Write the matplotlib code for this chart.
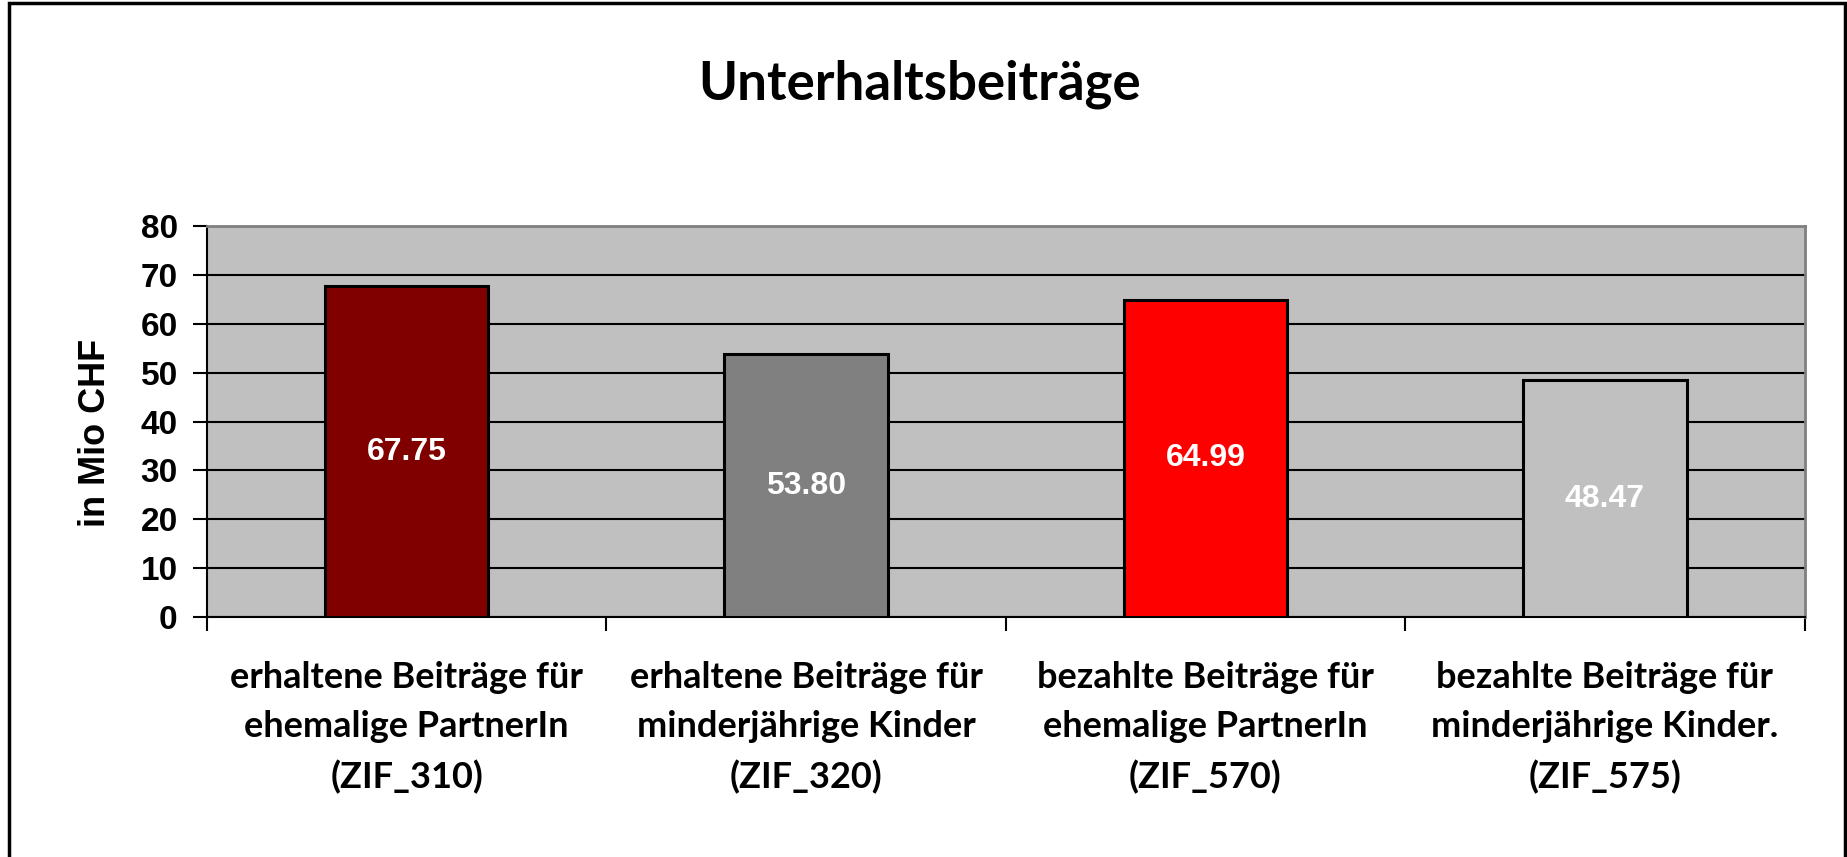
import matplotlib.pyplot as plt
from matplotlib.patches import Rectangle

categories = [
    "erhaltene Beiträge für\nehemalige PartnerIn\n(ZIF_310)",
    "erhaltene Beiträge für\nminderjährige Kinder\n(ZIF_320)",
    "bezahlte Beiträge für\nehemalige PartnerIn\n(ZIF_570)",
    "bezahlte Beiträge für\nminderjährige Kinder.\n(ZIF_575)",
]
values = [67.75, 53.80, 64.99, 48.47]
colors = ["#800000", "#808080", "#FF0000", "#C0C0C0"]
yticks = [0, 10, 20, 30, 40, 50, 60, 70, 80]

fig = plt.figure(figsize=(18.47, 8.57), dpi=100)
ax = fig.add_axes([0.112, 0.280, 0.865, 0.456])
ax.set_facecolor("#C0C0C0")

x = list(range(len(values)))
ax.bar(x, values, width=0.41, color=colors, edgecolor="black", linewidth=2.2, zorder=3)

for xi, v in zip(x, values):
    ax.text(xi, v / 2, f"{v:.2f}", ha="center", va="center", color="white",
            fontsize=23, fontweight="bold", family="Liberation Sans", zorder=4)

ax.set_xlim(-0.5, 3.5)
ax.set_ylim(0, 80)
ax.set_yticks(yticks)
ax.set_yticklabels([str(t) for t in yticks], fontsize=24, fontweight="bold",
                   family="Liberation Sans")
ax.yaxis.grid(True, color="black", linewidth=1.5, zorder=1)
ax.set_axisbelow(True)

# ticks between the categories, labels in the middle
ax.set_xticks([-0.5, 0.5, 1.5, 2.5, 3.5])
ax.set_xticklabels([])
ax.set_xticks(x, minor=True)
ax.set_xticklabels(categories, minor=True, fontsize=26, fontweight="bold",
                   family="Lato", linespacing=1.58)
ax.tick_params(axis="x", which="minor", length=0, pad=32)
ax.tick_params(axis="x", which="major", length=10, width=1.5, direction="out")
ax.tick_params(axis="y", length=10, width=1.5, direction="out", pad=11)

for s in ["left", "bottom"]:
    ax.spines[s].set_color("black")
    ax.spines[s].set_linewidth(1.5)
for s in ["top", "right"]:
    ax.spines[s].set_color("#808080")
    ax.spines[s].set_linewidth(2)

ax.set_ylabel("in Mio CHF", fontsize=26, fontweight="bold", family="Liberation Sans",
              va="center")
ax.yaxis.set_label_coords(-0.070, 0.47)

fig.text(0.498, 0.902, "Unterhaltsbeiträge", ha="center", va="center",
         fontsize=38, fontweight="bold", family="Lato")

# outer frame of the chart
fig.patches.append(Rectangle((0.005, -0.01), 0.994, 1.006, transform=fig.transFigure,
                             fill=False, edgecolor="black", linewidth=2.5))

fig.savefig("out.png", dpi=100)
